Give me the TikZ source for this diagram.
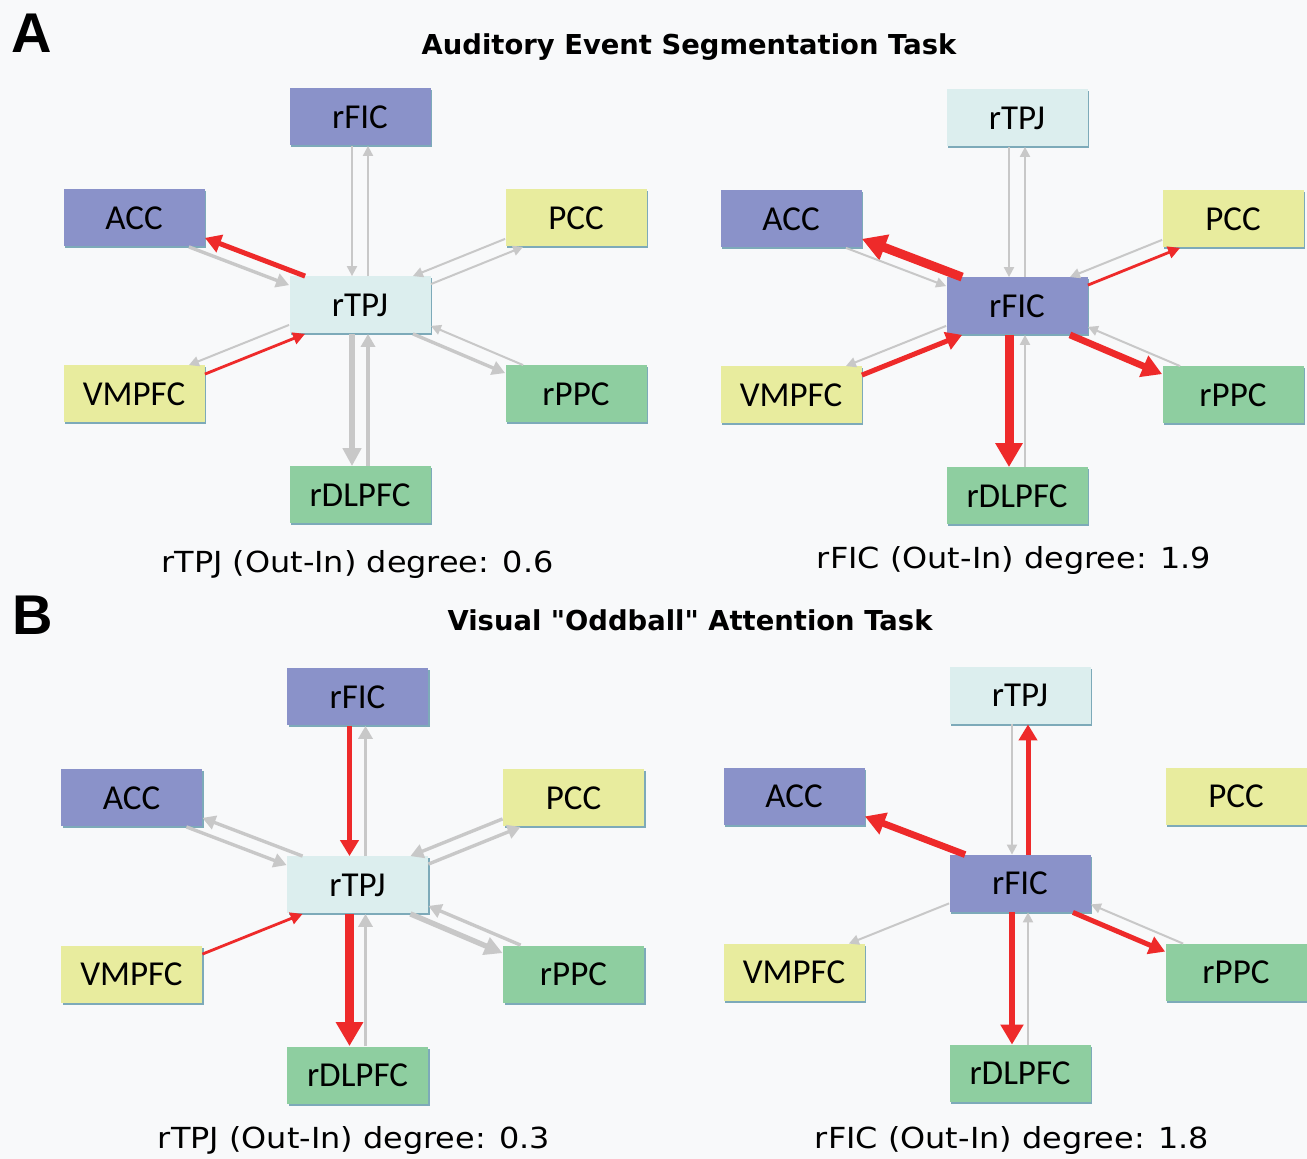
\documentclass[tikz,border=0pt]{standalone}
\usepackage{fontspec}
\usetikzlibrary{calc,arrows.meta,shadows}
\newfontfamily\boxfont{Carlito}
\newfontfamily\degfont[FakeStretch=1.1]{DejaVu Sans}
\newfontfamily\ttlfont{DejaVu Sans}
\newfontfamily\letfont{Liberation Sans}
\definecolor{bg}{RGB}{248,249,250}
\definecolor{blu}{RGB}{138,146,201}
\definecolor{cyn}{RGB}{220,238,238}
\definecolor{yel}{RGB}{232,236,158}
\definecolor{grn}{RGB}{142,206,160}
\definecolor{shd}{RGB}{125,170,185}
\definecolor{agray}{RGB}{200,200,200}
\definecolor{ared}{RGB}{238,42,42}
\tikzset{box/.style={rectangle,minimum width=70.5pt,minimum height=28.5pt,inner sep=0pt,
  font=\boxfont\fontsize{17.5}{19}\selectfont,
  drop shadow={shadow xshift=0.8pt,shadow yshift=-1pt,fill=shd,opacity=1}}}
\tikzset{deg/.style={font=\degfont\fontsize{14.5}{17}\selectfont}}
\tikzset{ttl/.style={font=\ttlfont\bfseries\fontsize{13.7}{16}\selectfont}}
\tikzset{let/.style={font=\letfont\bfseries\fontsize{28}{30}\selectfont}}
% connectors: g = grey, r = red, number = weight
\tikzset{g1/.style={draw=agray,line width=1pt,-{Triangle[length=5pt,width=5pt]}}}
\tikzset{g2/.style={draw=agray,line width=1.7pt,-{Triangle[length=6.5pt,width=7pt]}}}
\tikzset{g3/.style={draw=agray,line width=2.7pt,-{Triangle[length=9pt,width=9pt]}}}
\tikzset{r1/.style={draw=ared,line width=1.4pt,-{Triangle[length=6pt,width=6pt]}}}
\tikzset{r2/.style={draw=ared,line width=2.5pt,-{Triangle[length=8pt,width=9pt]}}}
\tikzset{r3/.style={draw=ared,line width=3.4pt,-{Triangle[length=10pt,width=11pt]}}}
\tikzset{r4/.style={draw=ared,line width=4.5pt,-{Triangle[length=12pt,width=13pt]}}}
% one panel: prefix, x, y, centre label, centre colour, top label, top colour
\newcommand\panel[7]{%
  \node[box,fill=#5] (#1C) at (#2,#3) {#4};
  \node[box,fill=#7] (#1N) at ($(#1C)+(0,-188)$) {#6};
  \node[box,fill=blu] (#1NW) at ($(#1C)+(-226,-87)$) {ACC};
  \node[box,fill=yel] (#1NE) at ($(#1C)+(216,-87)$) {PCC};
  \node[box,fill=yel] (#1SW) at ($(#1C)+(-226,89)$) {VMPFC};
  \node[box,fill=grn] (#1SE) at ($(#1C)+(216,89)$) {rPPC};
  \node[box,fill=grn] (#1S) at ($(#1C)+(0,190)$) {rDLPFC};
}
\newcommand\lkNin[2]{\draw[#2] ([xshift=-4pt]#1N.south) -- ([xshift=-4pt]#1C.north);}
\newcommand\lkNout[2]{\draw[#2] ([xshift=4pt]#1C.north) -- ([xshift=4pt]#1N.south);}
\newcommand\lkNWout[2]{\draw[#2] ([xshift=8pt]#1C.north west) -- ([yshift=4.5pt]#1NW.south east);}
\newcommand\lkNWin[2]{\draw[#2] ([xshift=-8pt]#1NW.south east) -- ([yshift=-4.5pt]#1C.north west);}
\newcommand\lkNEin[2]{\draw[#2] ([yshift=4pt]#1NE.south west) -- ([xshift=-9pt]#1C.north east);}
\newcommand\lkNEout[2]{\draw[#2] ([yshift=-4pt]#1C.north east) -- ([xshift=9pt]#1NE.south west);}
\newcommand\lkSWout[2]{\draw[#2] ([yshift=4.5pt]#1C.south west) -- ([xshift=-8pt]#1SW.north east);}
\newcommand\lkSWin[2]{\draw[#2] ([yshift=-4.5pt]#1SW.north east) -- ([xshift=8pt]#1C.south west);}
\newcommand\lkSEout[2]{\draw[#2] ([xshift=-9pt]#1C.south east) -- ([yshift=-4pt]#1SE.north west);}
\newcommand\lkSEin[2]{\draw[#2] ([xshift=9pt]#1SE.north west) -- ([yshift=4pt]#1C.south east);}
\newcommand\lkSout[2]{\draw[#2] ([xshift=-4pt]#1C.south) -- ([xshift=-4pt]#1S.north);}
\newcommand\lkSin[2]{\draw[#2] ([xshift=4pt]#1S.north) -- ([xshift=4pt]#1C.south);}

\begin{document}
\begin{tikzpicture}[x=0.5pt,y=-0.5pt]
  \useasboundingbox (0,0) rectangle (1307,1159);
  \fill[bg] (0,0) rectangle (1307,1159);

  \node[let] (A) at (32,33) {A};
  \node[let] (B) at (33,615) {B};
  \node[ttl] (ttla) at (689,47) {Auditory Event Segmentation Task};
  \node[ttl] (ttlb) at (690,620) {Visual "Oddball" Attention Task};

  \panel{a}{360}{305}{rTPJ}{cyn}{rFIC}{blu}
  \panel{b}{1017}{306}{rFIC}{blu}{rTPJ}{cyn}
  \panel{c}{357.5}{885}{rTPJ}{cyn}{rFIC}{blu}
  \panel{d}{1020}{883.5}{rFIC}{blu}{rTPJ}{cyn}

  \node[deg] (dega) at (357.5,565) {rTPJ (Out-In) degree: 0.6};
  \node[deg] (degb) at (1014,561) {rFIC (Out-In) degree: 1.9};
  \node[deg] (degc) at (354,1140) {rTPJ (Out-In) degree: 0.3};
  \node[deg] (degd) at (1012,1140) {rFIC (Out-In) degree: 1.8};

  % A, left
  \lkNin{a}{g1} \lkNout{a}{g1}
  \lkNWout{a}{r2} \lkNWin{a}{g2}
  \lkNEin{a}{g1} \lkNEout{a}{g1}
  \lkSWout{a}{g1} \lkSWin{a}{r1}
  \lkSEout{a}{g2} \lkSEin{a}{g1}
  \lkSout{a}{g3} \lkSin{a}{g2}
  % A, right
  \lkNin{b}{g1} \lkNout{b}{g1}
  \lkNWout{b}{r4} \lkNWin{b}{g1}
  \lkNEin{b}{g1} \lkNEout{b}{r1}
  \lkSWout{b}{g1} \lkSWin{b}{r2}
  \lkSEout{b}{r3} \lkSEin{b}{g1}
  \lkSout{b}{r4} \lkSin{b}{g1}
  % B, left
  \lkNin{c}{r2} \lkNout{c}{g2}
  \lkNWout{c}{g2} \lkNWin{c}{g2}
  \lkNEin{c}{g2} \lkNEout{c}{g2}
  \lkSWin{c}{r1}
  \lkSEout{c}{g3} \lkSEin{c}{g2}
  \lkSout{c}{r4} \lkSin{c}{g2}
  % B, right
  \lkNin{d}{g1} \lkNout{d}{r2}
  \lkNWout{d}{r3}
  \lkSWout{d}{g1}
  \lkSEout{d}{r2} \lkSEin{d}{g1}
  \lkSout{d}{r3} \lkSin{d}{g1}
\end{tikzpicture}
\end{document}
